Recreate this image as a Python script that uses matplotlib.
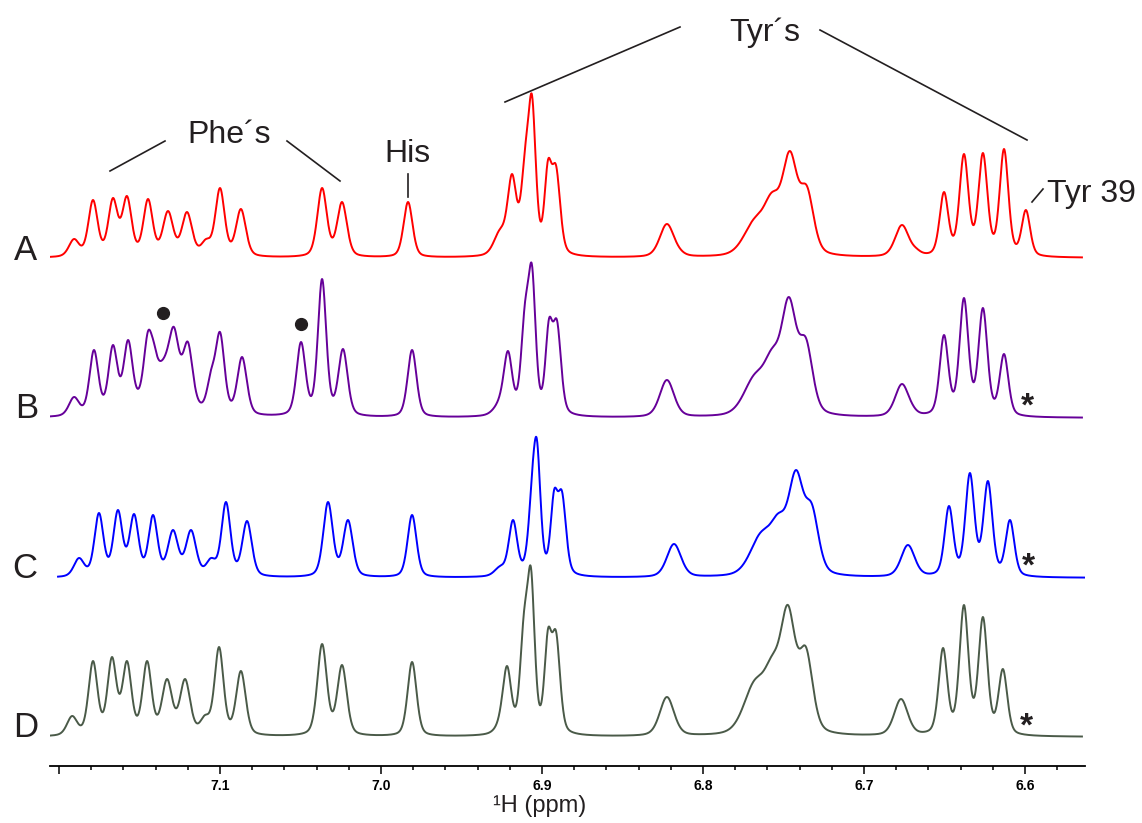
import numpy as np
import matplotlib.pyplot as plt
from matplotlib.lines import Line2D
from matplotlib.ticker import MultipleLocator, FuncFormatter

plt.rcParams['font.family'] = ['Liberation Sans', 'DejaVu Sans']

# Peak tables: shift (ppm), apparent height, line width (ppm)
shifts_a = [7.1907, 7.1789, 7.1665, 7.1578, 7.1447, 7.1323, 7.1205, 7.1087, 7.1000, 7.0870,
            7.0366, 7.0242, 6.9832,
            6.9261, 6.9186, 6.9106, 6.9062, 6.8963, 6.8913,
            6.8224, 6.8140,
            6.7680, 6.7570, 6.7460, 6.7354,
            6.6764, 6.6675, 6.6503, 6.6379, 6.6261, 6.6130, 6.5994]
heights_a = [19, 58, 60, 62, 59, 47, 46, 19, 70, 49,
             70, 56, 56,
             29, 84, 109, 163, 98, 93,
             34, 9,
             40, 66, 107, 72,
             33, 10, 66, 104, 105, 109, 48]
widths_a = [0.0075, 0.0068, 0.0068, 0.0068, 0.0068, 0.0075, 0.0075, 0.007, 0.0068, 0.0072,
            0.007, 0.0072, 0.0066,
            0.009, 0.0065, 0.0058, 0.0056, 0.0052, 0.0062,
            0.0105, 0.008,
            0.016, 0.012, 0.011, 0.010,
            0.0100, 0.007, 0.0064, 0.0066, 0.0066, 0.0064, 0.0062]

shifts_b = [7.1907, 7.1783, 7.1665, 7.1571, 7.1447, 7.1410, 7.1340, 7.1286, 7.1199, 7.1056,
            7.1000, 7.0863, 7.0497, 7.0366, 7.0236, 6.9807,
            6.9261, 6.9211, 6.9106, 6.9062, 6.8957, 6.8907,
            6.8224,
            6.7680, 6.7570, 6.7466, 6.7360,
            6.6764, 6.6696, 6.6503, 6.6379, 6.6261, 6.6130]
heights_b = [21, 68, 73, 78, 87, 75, 63, 91, 76, 48,
             86, 61, 76, 139, 69, 68,
             24, 67, 115, 153, 99, 98,
             38,
             44, 70, 121, 80,
             34, 13, 83, 120, 110, 64]
widths_b = [0.0075, 0.0066, 0.0066, 0.0066, 0.0062, 0.0045, 0.022, 0.0066, 0.0068, 0.006,
            0.0066, 0.007, 0.0066, 0.0062, 0.0068, 0.0066,
            0.009, 0.0062, 0.0058, 0.0054, 0.0052, 0.006,
            0.0105,
            0.016, 0.012, 0.011, 0.010,
            0.0100, 0.007, 0.0064, 0.0066, 0.0066, 0.0064]

shifts_c = [7.1876, 7.1752, 7.1634, 7.1534, 7.1416, 7.1292, 7.1180, 7.1056, 7.0963, 7.0832,
            7.0329, 7.0205, 6.9807,
            6.9261, 6.9180, 6.9062, 6.9031, 6.8925, 6.8876,
            6.8180,
            6.7640, 6.7530, 6.7422, 6.7323,
            6.6727, 6.6472, 6.6342, 6.6230, 6.6093]
heights_c = [20, 65, 68, 64, 63, 48, 48, 20, 76, 57,
             76, 58, 63,
             12, 58, 105, 138, 88, 87,
             34,
             46, 65, 108, 74,
             33, 72, 105, 97, 58]
widths_c = [0.0075, 0.0066, 0.0066, 0.0066, 0.0066, 0.0075, 0.0075, 0.007, 0.0066, 0.007,
            0.007, 0.007, 0.0066,
            0.008, 0.0062, 0.0058, 0.0054, 0.0052, 0.006,
            0.0105,
            0.016, 0.012, 0.011, 0.010,
            0.0100, 0.0064, 0.0066, 0.0066, 0.0064]

shifts_d = [7.1919, 7.1789, 7.1671, 7.1578, 7.1453, 7.1329, 7.1217, 7.1093, 7.1006, 7.0870,
            7.0366, 7.0242, 6.9807,
            6.9255, 6.9217, 6.9112, 6.9068, 6.8963, 6.8913,
            6.8224,
            6.7680, 6.7570, 6.7472, 6.7360,
            6.6770, 6.6509, 6.6379, 6.6261, 6.6137]
heights_d = [21, 76, 80, 76, 76, 58, 58, 22, 90, 66,
             93, 72, 75,
             33, 71, 125, 169, 108, 106,
             40,
             57, 82, 132, 90,
             38, 89, 132, 120, 68]
widths_d = [0.0075, 0.0066, 0.0066, 0.0066, 0.0066, 0.0075, 0.0075, 0.007, 0.0066, 0.007,
            0.007, 0.007, 0.0066,
            0.008, 0.0062, 0.0058, 0.0054, 0.0052, 0.006,
            0.0105,
            0.016, 0.012, 0.011, 0.010,
            0.0100, 0.0064, 0.0066, 0.0066, 0.0064]

labels = ['A', 'B', 'C', 'D']
offsets = [479, 319, 159, 0]
ranges = [(7.2056, 6.5646), (7.2056, 6.5646), (7.2006, 6.5609), (7.2056, 6.5646)]
colors = ['#ff0000', '#660099', '#0000ff', '#4a5a48']


def lineshape(x, x0, w, eta=0.35):
    # pseudo-Voigt, w = full width at half height
    d = (x - x0) / w
    return eta / (1.0 + 4.0 * d**2) + (1 - eta) * np.exp(-4.0 * np.log(2) * d**2)


def spectrum(x, shifts, heights, widths):
    s = np.asarray(shifts)
    w = np.asarray(widths)
    # amplitudes such that the summed trace hits the read heights at each shift
    m = lineshape(s[:, None], s[None, :], w[None, :])
    amps = np.clip(np.linalg.solve(m, np.asarray(heights, float)), 0, None)
    return (amps[None, :] * lineshape(x[:, None], s[None, :], w[None, :])).sum(axis=1)


W, H = 1142, 823


def fig_xy(px, py):
    return px / W, 1 - py / H


fig = plt.figure(figsize=(W / 100, H / 100), dpi=100)
ax = fig.add_axes([50 / W, 57 / H, 1035 / W, 766 / H])

tables = [(shifts_a, heights_a, widths_a), (shifts_b, heights_b, widths_b),
          (shifts_c, heights_c, widths_c), (shifts_d, heights_d, widths_d)]
for (s, h, w), off, (x0, x1), col in zip(tables, offsets, ranges, colors):
    x = np.linspace(x0, x1, 4000)
    ax.plot(x, spectrum(x, s, h, w) + off, color=col, lw=1.4, solid_joinstyle='round')

ax.set_xlim(7.2056, 6.5627)
ax.set_ylim(-29, 737)
for side in ['left', 'right', 'top']:
    ax.spines[side].set_visible(False)
ax.spines['bottom'].set_linewidth(1.3)
ax.set_yticks([])
ax.xaxis.set_major_locator(MultipleLocator(0.1))
ax.xaxis.set_minor_locator(MultipleLocator(0.02))
ax.xaxis.set_major_formatter(FuncFormatter(lambda v, pos: '' if v > 7.15 else f'{v:.1f}'))
ax.tick_params(axis='x', which='major', length=5.5, width=1.1, pad=4, labelsize=10)
ax.tick_params(axis='x', which='minor', length=3, width=1.1)
for t in ax.get_xticklabels():
    t.set_fontweight('bold')

txt = '#231f20'
fig.text(*fig_xy(540, 812), '\u00b9H (ppm)', fontsize=17, ha='center', va='baseline', color=txt)

# trace letters
for lab, (px, py) in zip(labels, [(25, 260), (27, 418), (25, 578), (26, 737)]):
    fig.text(*fig_xy(px, py), lab, fontsize=25, ha='center', va='baseline', color=txt)

# group labels and leader lines
fig.text(*fig_xy(229, 143), 'Phe\u00b4s', fontsize=23, ha='center', va='baseline', color=txt)
fig.text(*fig_xy(407, 162), 'His', fontsize=23, ha='center', va='baseline', color=txt)
fig.text(*fig_xy(765, 41), 'Tyr\u00b4s', fontsize=23, ha='center', va='baseline', color=txt)
fig.text(*fig_xy(1047, 202), 'Tyr 39', fontsize=23, ha='left', va='baseline', color=txt)

leaders = [((110, 171), (165, 141)), ((287, 141), (340, 181)), ((408, 174), (408, 197)),
           ((505, 102), (680, 27)), ((820, 30), (1027, 140)), ((1032, 202), (1043, 189))]
for p0, p1 in leaders:
    (xa, ya), (xb, yb) = fig_xy(*p0), fig_xy(*p1)
    fig.add_artist(Line2D([xa, xb], [ya, yb], transform=fig.transFigure, color=txt, lw=1.2))

# markers for extra peaks in B and the missing Tyr 39 signal
for px, py in [(163, 313), (301, 324)]:
    fig.add_artist(Line2D([px / W], [1 - py / H], transform=fig.transFigure, marker='o',
                          markersize=8.5, color=txt, lw=0))
for px, py in [(1027, 416), (1028, 576), (1026, 736)]:
    fig.text(*fig_xy(px, py), '*', fontsize=24, fontweight='bold', ha='center',
             va='baseline', color=txt)

fig.savefig('out.png', dpi=100)
